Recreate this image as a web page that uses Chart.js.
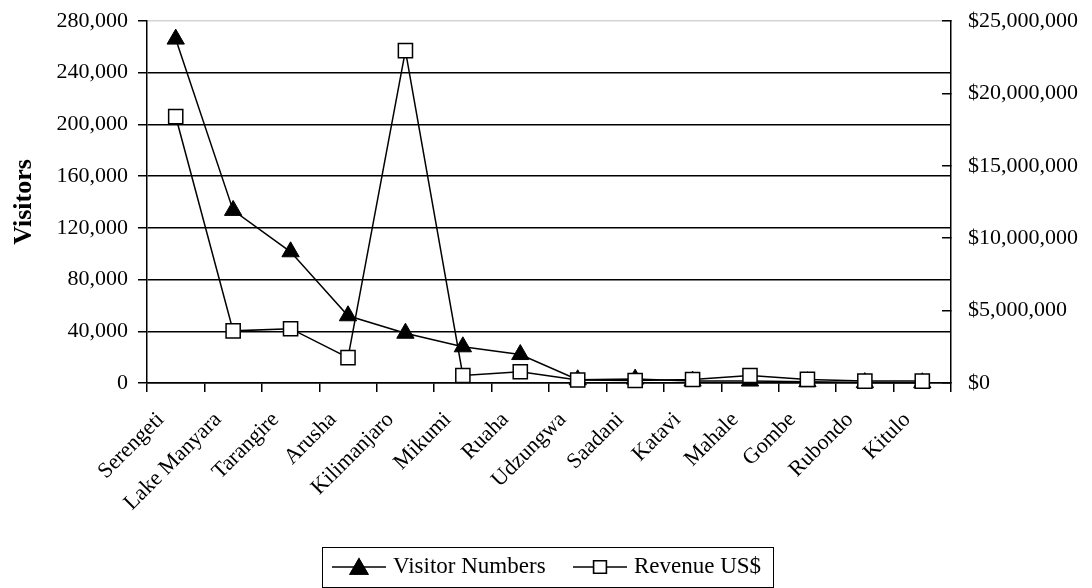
<!DOCTYPE html>
<html lang="en">
<head>
  <meta charset="UTF-8">
  <title>Tanzania National Parks - Visitors and Revenue</title>
  <script src="https://cdn.jsdelivr.net/npm/chart.js"></script>
  <style>
    body {
      margin: 0;
      background: #fff;
    }
    #wrap {
      width: 1092px;
      height: 588px;
      position: relative;
    }
  </style>
</head>
<body>
  <div id="wrap"><canvas id="canvas"></canvas></div>

  <script>
    const parks = ["Serengeti", "Lake Manyara", "Tarangire", "Arusha", "Kilimanjaro", "Mikumi", "Ruaha",
                   "Udzungwa", "Saadani", "Katavi", "Mahale", "Gombe", "Rubondo", "Kitulo"];
    const visitors = [266000, 133500, 101500, 52000, 38500, 28000, 22000, 2500, 3000, 1500, 1500, 1000, 300, 200];
    const revenue = [18400000, 3600000, 3750000, 1750000, 22950000, 520000, 780000,
                     210000, 170000, 240000, 520000, 250000, 130000, 130000];
    const visitorTicks = [0, 40000, 80000, 120000, 160000, 200000, 240000, 280000];
    const revenueTicks = [0, 5000000, 10000000, 15000000, 20000000, 25000000];

    const FONT = "'Liberation Serif', 'Times New Roman', serif";
    const fmt = v => v.toLocaleString("en-US");

    // fixed axis sizes so the plot area lands where it should; drop the label overflow padding
    const fixSize = (w, h) => s => {
      if (w) s.width = w;
      if (h) s.height = h;
      s.paddingTop = s.paddingBottom = s.paddingLeft = s.paddingRight = 0;
    };

    // boxed legend under the chart: short line with the marker in the middle, then the label
    const legendBox = {
      id: "legendBox",
      afterDraw(chart) {
        const ctx = chart.ctx;
        const top = 547, rowY = 567;
        ctx.save();
        ctx.strokeStyle = "#000";
        ctx.lineWidth = 1;
        ctx.strokeRect(322.5, top + 0.5, 451, 40);
        ctx.font = "23px " + FONT;
        ctx.textBaseline = "middle";
        ctx.fillStyle = "#000";
        const starts = [332, 573];
        chart.data.datasets.forEach((ds, i) => {
          const x0 = starts[i];
          ctx.beginPath();
          ctx.moveTo(x0, rowY);
          ctx.lineTo(x0 + 54, rowY);
          ctx.lineWidth = 1.5;
          ctx.stroke();
          Chart.helpers.drawPoint(ctx, {
            pointStyle: ds.pointStyle,
            radius: ds.pointStyle === "triangle" ? 10 : 9,
            borderWidth: 1.5
          }, x0 + 27, rowY + (ds.pointStyle === "triangle" ? 2 : 0));
          ctx.fillStyle = ds.pointBackgroundColor;
          ctx.strokeStyle = "#000";
          ctx.fill();
          ctx.stroke();
          ctx.fillStyle = "#000";
          ctx.fillText(ds.label, x0 + 61, rowY);
        });
        ctx.restore();
      }
    };

    window.onload = function () {
      const ctx = document.getElementById("canvas").getContext("2d");
      new Chart(ctx, {
        type: "line",
        data: {
          labels: parks,
          datasets: [
            {
              label: "Visitor Numbers",
              data: visitors,
              yAxisID: "y",
              borderColor: "#000",
              borderWidth: 1.5,
              pointStyle: "triangle",
              pointRadius: 10,
              pointBackgroundColor: "#000",
              pointBorderColor: "#000",
              pointBorderWidth: 1,
              tension: 0,
              clip: false,
              order: 2
            },
            {
              label: "Revenue US$",
              data: revenue,
              yAxisID: "y1",
              borderColor: "#000",
              borderWidth: 1.5,
              pointStyle: "rect",
              pointRadius: 10,
              pointBackgroundColor: "#fff",
              pointBorderColor: "#000",
              pointBorderWidth: 1.5,
              tension: 0,
              clip: false,
              order: 1
            }
          ]
        },
        options: {
          responsive: true,
          maintainAspectRatio: false,
          animation: false,
          events: [],
          layout: { padding: { top: 21, left: 0, right: 0, bottom: 0 } },
          plugins: {
            legend: { display: false },
            tooltip: { enabled: false }
          },
          scales: {
            x: {
              offset: true,
              grid: {
                offset: true,
                drawOnChartArea: false,
                tickLength: 9,
                tickColor: "#000",
                lineWidth: 1.5
              },
              border: { color: "#000", width: 1.5 },
              ticks: {
                autoSkip: false,
                minRotation: 45,
                maxRotation: 45,
                padding: 15,
                labelOffset: -15,
                color: "#000",
                font: { family: FONT, size: 22 }
              },
              afterFit: fixSize(0, 205)
            },
            y: {
              position: "left",
              min: 0,
              max: 280000,
              afterBuildTicks: s => { s.ticks = visitorTicks.map(v => ({ value: v })); },
              grid: {
                color: c => (c.tick && c.tick.value === 280000 ? "#d4d4d4" : "#000"),
                tickColor: "#000",
                lineWidth: 1.5,
                tickLength: 9
              },
              border: { color: "#000", width: 1.5 },
              ticks: {
                padding: 10,
                color: "#000",
                font: { family: FONT, size: 22 },
                callback: v => fmt(v)
              },
              title: {
                display: true,
                text: "Visitors",
                color: "#000",
                padding: { top: 9, bottom: 0 },
                font: { family: FONT, size: 26, weight: "bold" }
              },
              afterFit: fixSize(147, 0)
            },
            y1: {
              position: "right",
              min: 0,
              max: 25000000,
              afterBuildTicks: s => { s.ticks = revenueTicks.map(v => ({ value: v })); },
              grid: {
                drawOnChartArea: false,
                tickColor: "#000",
                lineWidth: 1.5,
                tickLength: -9
              },
              border: { color: "#000", width: 1.5 },
              ticks: {
                padding: 26,
                color: "#000",
                font: { family: FONT, size: 22 },
                callback: v => "$" + fmt(v)
              },
              afterFit: fixSize(141, 0)
            }
          }
        },
        plugins: [legendBox]
      });
    };
  </script>
</body>
</html>
